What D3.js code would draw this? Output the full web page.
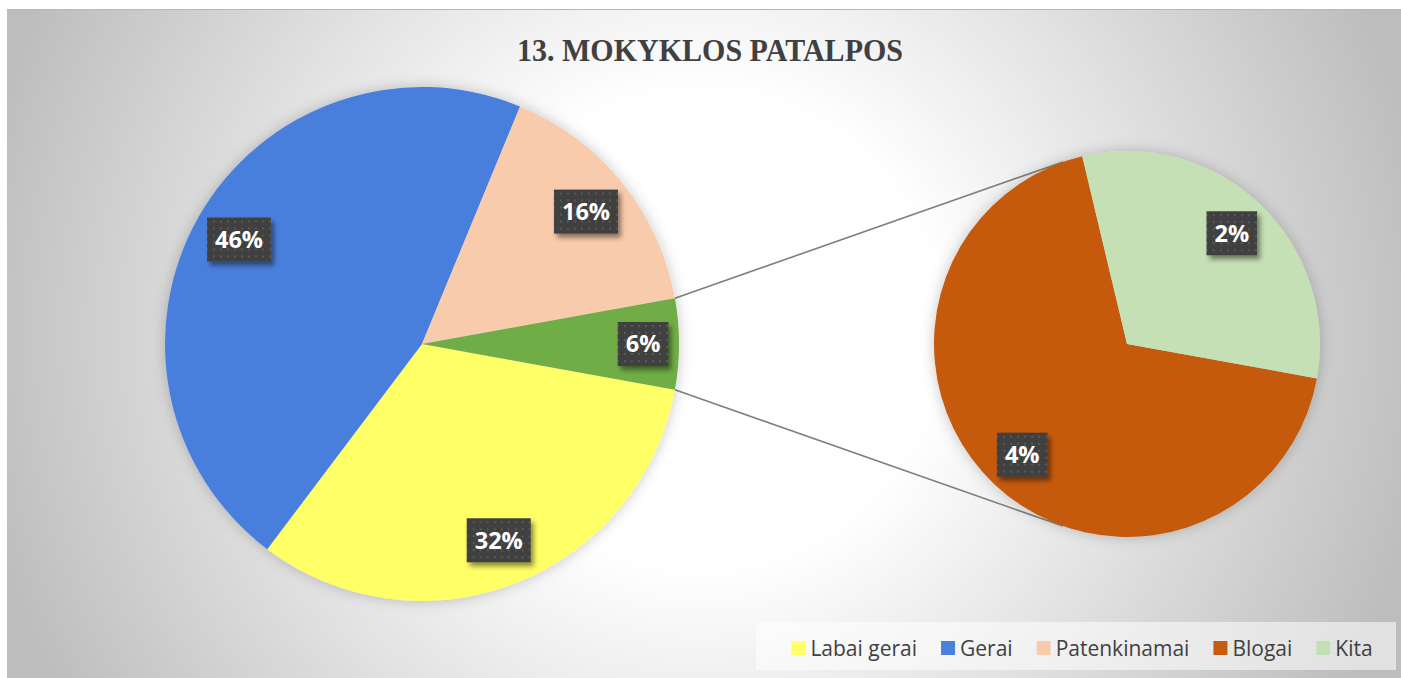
<!DOCTYPE html>
<html>
<head>
<meta charset="utf-8">
<script src="https://cdn.jsdelivr.net/npm/d3@7"></script>
<style>
  body { margin: 0; background: #fff; }
  svg { display: block; }
</style>
</head>
<body>
<svg id="chart" width="1401" height="678"></svg>
<script>
// data (percent of answers)
const categories = ['Labai gerai', 'Gerai', 'Patenkinamai', 'Blogai', 'Kita']
const values = [32.4, 45.9, 15.9, 3.9, 1.8]
const colors = ['#ffff66', '#4a7fdc', '#f8cbad', '#c55a11', '#c5e0b4']
const mainIdx = [0, 1, 2]      // slices kept in the big pie
const secondIdx = [3, 4]       // slices split into the small pie
const otherColor = '#70ad47'
const title = '13. MOKYKLOS PATALPOS'

const svg = d3.select('#chart')
const defs = svg.append('defs')

// background gradient of the chart area
const bg = defs.append('radialGradient').attr('id', 'bg')
  .attr('gradientUnits', 'userSpaceOnUse')
  .attr('cx', 700).attr('cy', 330).attr('r', 740)
bg.append('stop').attr('offset', 0).attr('stop-color', '#ffffff')
bg.append('stop').attr('offset', 0.32).attr('stop-color', '#ffffff')
bg.append('stop').attr('offset', 1).attr('stop-color', '#bdbdbd')

// soft halo around the pies
const halo = defs.append('filter').attr('id', 'halo')
  .attr('x', '-20%').attr('y', '-20%').attr('width', '140%').attr('height', '140%')
halo.append('feGaussianBlur').attr('in', 'SourceAlpha').attr('stdDeviation', 7).attr('result', 'b')
halo.append('feFlood').attr('flood-color', '#000').attr('flood-opacity', 0.22)
halo.append('feComposite').attr('in2', 'b').attr('operator', 'in').attr('result', 's')
const hm = halo.append('feMerge')
hm.append('feMergeNode').attr('in', 's')
hm.append('feMergeNode').attr('in', 'SourceGraphic')

// drop shadow of the label boxes
const drop = defs.append('filter').attr('id', 'drop')
  .attr('x', '-30%').attr('y', '-30%').attr('width', '170%').attr('height', '170%')
drop.append('feGaussianBlur').attr('in', 'SourceAlpha').attr('stdDeviation', 2.5).attr('result', 'b')
drop.append('feOffset').attr('dx', 3).attr('dy', 4).attr('result', 'o')
drop.append('feFlood').attr('flood-color', '#000').attr('flood-opacity', 0.45)
drop.append('feComposite').attr('in2', 'o').attr('operator', 'in').attr('result', 's')
const dm = drop.append('feMerge')
dm.append('feMergeNode').attr('in', 's')
dm.append('feMergeNode').attr('in', 'SourceGraphic')

// dotted fill of the label boxes
const dots = defs.append('pattern').attr('id', 'dots')
  .attr('patternUnits', 'userSpaceOnUse').attr('width', 7).attr('height', 7)
dots.append('rect').attr('width', 7).attr('height', 7).attr('fill', '#404040')
dots.append('rect').attr('x', 2).attr('y', 2).attr('width', 2).attr('height', 2).attr('fill', '#585858')

// chart area
svg.append('rect').attr('x', 7).attr('y', 9).attr('width', 1394).attr('height', 669)
  .attr('fill', 'url(#bg)')
svg.append('line').attr('x1', 7).attr('x2', 1401).attr('y1', 9.5).attr('y2', 9.5)
  .attr('stroke', '#b8b8b8').attr('stroke-width', 1)

svg.append('text').attr('x', 710).attr('y', 61)
  .attr('text-anchor', 'middle')
  .attr('font-family', '"Liberation Serif", "Times New Roman", serif')
  .attr('font-weight', 'bold').attr('font-size', 32)
  .attr('textLength', 386).attr('lengthAdjust', 'spacingAndGlyphs')
  .attr('fill', '#404040')
  .text(title)

const total = d3.sum(values)
const otherValue = d3.sum(secondIdx, i => values[i])
const half = Math.PI * otherValue / total

const mainData = mainIdx.map(i => ({ name: categories[i], value: values[i], color: colors[i] }))
mainData.push({ name: 'other', value: otherValue, color: otherColor })
const secondData = secondIdx.map(i => ({ name: categories[i], value: values[i], color: colors[i] }))

const c1 = { x: 422, y: 344, r: 257 }
const c2 = { x: 1127, y: 344, r: 193 }

const pieMaker = d3.pie().sort(null).value(d => d.value)
  .startAngle(Math.PI / 2 + half).endAngle(Math.PI / 2 + half + 2 * Math.PI)

const pct = d3.format('.0%')

function drawPie (c, data, labelK) {
  const arcs = pieMaker(data)
  const g = svg.append('g').attr('transform', `translate(${c.x},${c.y})`)
  const arc = d3.arc().innerRadius(0).outerRadius(c.r)
  g.append('g').attr('filter', 'url(#halo)')
    .selectAll('path').data(arcs).enter().append('path')
    .attr('d', arc).attr('fill', d => d.data.color)
  arcs.forEach(d => {
    // the small "other" slice gets its label pushed out a little, like Excel does
    const k = d.data.name === 'other' ? 0.86 : labelK
    const [lx, ly] = d3.arc().innerRadius(c.r * k).outerRadius(c.r * k).centroid(d)
    const lg = g.append('g').attr('transform', `translate(${lx},${ly})`)
    const box = lg.append('rect').attr('fill', 'url(#dots)').attr('filter', 'url(#drop)')
    const t = lg.append('text').attr('text-anchor', 'middle').attr('dy', '0.36em')
      .attr('font-family', '"Open Sans", sans-serif').attr('font-weight', 'bold')
      .attr('font-size', 23.5).attr('fill', '#fff')
      .text(pct(d.data.value / total))
    const w = t.node().getComputedTextLength() + 16
    box.attr('x', -w / 2).attr('y', -22).attr('width', w).attr('height', 44)
  })
}

// connector lines: from the edges of the "other" slice, tangent to the small pie
function tangent (p, sign) {
  const dx = p[0] - c2.x
  const dy = p[1] - c2.y
  const d = Math.hypot(dx, dy)
  const phi = Math.atan2(dy, dx) + sign * Math.acos(c2.r / d)
  return [c2.x + c2.r * Math.cos(phi), c2.y + c2.r * Math.sin(phi)]
}
const edgeAngles = [Math.PI / 2 - half, Math.PI / 2 + half]
edgeAngles.forEach((a, k) => {
  const p = [c1.x + c1.r * Math.sin(a), c1.y - c1.r * Math.cos(a)]
  const q = tangent(p, k === 0 ? 1 : -1)
  svg.append('line').attr('x1', p[0]).attr('y1', p[1]).attr('x2', q[0]).attr('y2', q[1])
    .attr('stroke', '#7f7f7f').attr('stroke-width', 1.6)
})

drawPie(c1, mainData, 0.82)
drawPie(c2, secondData, 0.79)

// legend
const legend = svg.append('g')
legend.append('rect').attr('x', 756).attr('y', 622).attr('width', 640).attr('height', 48)
  .attr('fill', '#ffffff').attr('fill-opacity', 0.55)
const items = legend.append('g')
let lx = 0
categories.forEach((name, i) => {
  const it = items.append('g').attr('transform', `translate(${lx},0)`)
  it.append('rect').attr('x', 0).attr('y', -7).attr('width', 14).attr('height', 14).attr('fill', colors[i])
  const t = it.append('text').attr('x', 19).attr('dy', '0.36em')
    .attr('font-family', '"Open Sans", sans-serif').attr('font-size', 21).attr('fill', '#404040')
    .text(name)
  lx += 19 + t.node().getComputedTextLength() + 24
})
const itemsW = lx - 24
items.attr('transform', `translate(${1082 - itemsW / 2},648)`)
</script>
</body>
</html>
